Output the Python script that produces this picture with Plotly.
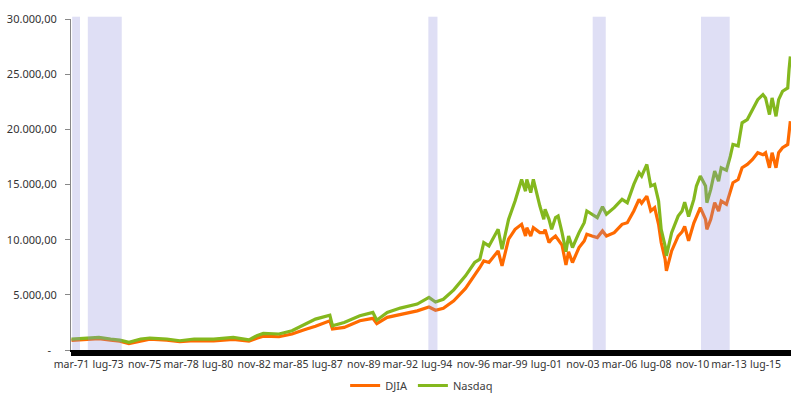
import plotly.graph_objects as go

# ---- data (month, DJIA, Nasdaq) ----
dates = ["1971-03","1972-03","1972-12","1973-09","1974-04","1974-11","1975-08","1976-03",
         "1977-04","1978-02","1979-01","1980-04","1981-07","1982-07","1983-01","1983-06",
         "1984-06","1985-04","1986-02","1986-10","1987-09","1987-11","1988-08","1989-08",
         "1990-06","1990-09","1991-05","1992-03","1993-04","1994-01","1994-06","1994-12",
         "1995-08","1996-05","1996-12","1997-04","1997-07","1997-11","1998-06","1998-09",
         "1999-02","1999-07","1999-12","2000-03","2000-04","2000-07","2000-09","2000-12",
         "2001-02","2001-05","2001-06","2001-09","2001-11","2002-02","2002-04","2002-07",
         "2002-10","2002-12","2003-03","2003-08","2003-12","2004-02","2004-06","2004-10",
         "2005-02","2005-05","2005-11","2006-05","2006-09","2007-02","2007-06","2007-08",
         "2007-12","2008-03","2008-06","2008-09","2008-11","2009-02","2009-03","2009-07",
         "2009-12","2010-03","2010-05","2010-08","2010-12","2011-02","2011-05","2011-09",
         "2011-10","2012-01","2012-04","2012-07","2012-09","2013-01","2013-04","2013-06",
         "2013-10","2014-01","2014-05","2014-09","2015-01","2015-05","2015-07","2015-10",
         "2015-12","2016-03","2016-05","2016-08","2016-12","2017-01","2017-02"]

djia = [880, 940, 1020, 900, 800, 580, 840, 980,
        900, 760, 850, 830, 950, 800, 1070, 1250,
        1200, 1450, 1850, 2150, 2650, 1900, 2050, 2650,
        2870, 2400, 2960, 3200, 3550, 3900, 3600, 3780,
        4450, 5580, 6720, 7480, 8070, 7930, 8980, 7620,
        10040, 10940, 11390, 10330, 11090, 10330, 11090, 10800,
        10640, 10640, 10900, 9740, 10040, 10330, 10040, 9500,
        7700, 8900, 7930, 9290, 9880, 10490, 10330, 10190,
        10790, 10330, 10640, 11390, 11540, 12600, 13650, 13300,
        13950, 12600, 12900, 11390, 9740, 8230, 7170, 8980,
        10330, 10700, 11200, 9900, 11500, 12140, 12900, 11840,
        10940, 11840, 13350, 12600, 13500, 13200, 14400, 15160,
        15450, 16520, 16820, 17270, 17880, 17700, 17880, 16520,
        17880, 16520, 17880, 18330, 18630, 19980, 20730]

nasdaq = [990, 1060, 1150, 995, 900, 700, 995, 1085,
          995, 840, 995, 990, 1150, 920, 1290, 1500,
          1450, 1750, 2350, 2800, 3160, 2200, 2500, 3100,
          3400, 2700, 3400, 3800, 4160, 4765, 4350, 4600,
          5450, 6720, 7930, 8230, 9740, 9430, 10940, 9130,
          11840, 13500, 15460, 14400, 15460, 14260, 15460, 13950,
          13050, 11840, 12750, 11840, 10940, 12000, 12140, 10640,
          8900, 10330, 9290, 10640, 11540, 12600, 12300, 12000,
          12990, 12300, 12900, 13650, 13350, 15010, 16070, 15760,
          16820, 14860, 15010, 13500, 10940, 9430, 8530, 10640,
          12140, 12600, 13400, 12100, 13650, 14860, 15760, 14860,
          13350, 14560, 16210, 15310, 16520, 16300, 17570, 18630,
          18500, 20590, 20890, 21790, 22690, 23150, 22850, 21340,
          22850, 21180, 22690, 23450, 23750, 25410, 26610]

# shaded periods (start month, end month)
shade_start = ["1971-04", "1972-04", "1994-01", "2004-07", "2011-06"]
shade_end   = ["1971-09", "1974-05", "1994-07", "2005-04", "2013-03"]

x_tick_labels = ["mar-71","lug-73","nov-75","mar-78","lug-80","nov-82","mar-85","lug-87",
                 "nov-89","mar-92","lug-94","nov-96","mar-99","lug-01","nov-03","mar-06",
                 "lug-08","nov-10","mar-13","lug-15"]
y_tick_vals = [0, 5000, 10000, 15000, 20000, 25000, 30000]
y_tick_labels = ["-\u00a0\u00a0", "5.000,00", "10.000,00", "15.000,00", "20.000,00",
                 "25.000,00", "30.000,00"]

IT_MONTHS = {"gen":1,"feb":2,"mar":3,"apr":4,"mag":5,"giu":6,"lug":7,"ago":8,
             "set":9,"ott":10,"nov":11,"dic":12}

def idx(s):
    y, m = s.split("-")
    return (int(y) - 1971) * 12 + (int(m) - 3)

def idx_lbl(lbl):
    mo, yy = lbl.split("-")
    year = 1900 + int(yy) if int(yy) > 50 else 2000 + int(yy)
    return (year - 1971) * 12 + IT_MONTHS[mo] - 3

xs = [idx(d) for d in dates]
n_months = idx(dates[-1]) + 1
label_at = {idx_lbl(l): l for l in x_tick_labels}
all_tickvals = list(range(n_months))           # one tick per monthly category
all_ticktext = [label_at.get(i, "") for i in all_tickvals]
XRANGE = [-0.4, n_months - 0.5]

FONT = "Noto Sans"
fig = go.Figure()
fig.add_trace(go.Scatter(x=xs, y=djia, name="DJIA", mode="lines",
                         line=dict(color="#FF6A00", width=3.2)))
fig.add_trace(go.Scatter(x=xs, y=nasdaq, name="Nasdaq", mode="lines",
                         line=dict(color="#84B81E", width=3.2)))

for s, e in zip(shade_start, shade_end):
    fig.add_shape(type="rect", xref="x", yref="paper",
                  x0=idx(s) - 0.5, x1=idx(e) + 0.5, y0=0, y1=1.007,
                  fillcolor="rgba(140,140,220,0.28)", line_width=0, layer="above")

fig.update_layout(
    width=791, height=400, autosize=False,
    margin=dict(l=71, r=0, t=19, b=49),
    paper_bgcolor="white", plot_bgcolor="white",
    font=dict(family=FONT, size=11, color="#404040"),
    showlegend=True,
    legend=dict(orientation="h", x=0.487, xanchor="center", y=-0.062, yanchor="top",
                font=dict(size=11, color="#404040"), bgcolor="rgba(0,0,0,0)"),
    xaxis=dict(range=XRANGE, tickmode="array", tickvals=all_tickvals,
               ticktext=all_ticktext, tickangle=0, showgrid=False,
               zeroline=False, showline=True, linecolor="#000", linewidth=1.5,
               ticks="outside", ticklen=4, tickcolor="#000", tickwidth=2,
               tickfont=dict(size=10.5, color="#333")),
    yaxis=dict(range=[0, 30000], tickmode="array", tickvals=y_tick_vals,
               ticktext=y_tick_labels, showgrid=False, zeroline=False,
               showline=True, linecolor="#888", linewidth=1,
               ticks="outside", ticklen=5, tickcolor="#888",
               ticklabelstandoff=6, tickfont=dict(size=11, color="#333")),
)

fig.write_html("out.html", config={"displayModeBar": False},
               post_script="document.body.style.margin='0';")
